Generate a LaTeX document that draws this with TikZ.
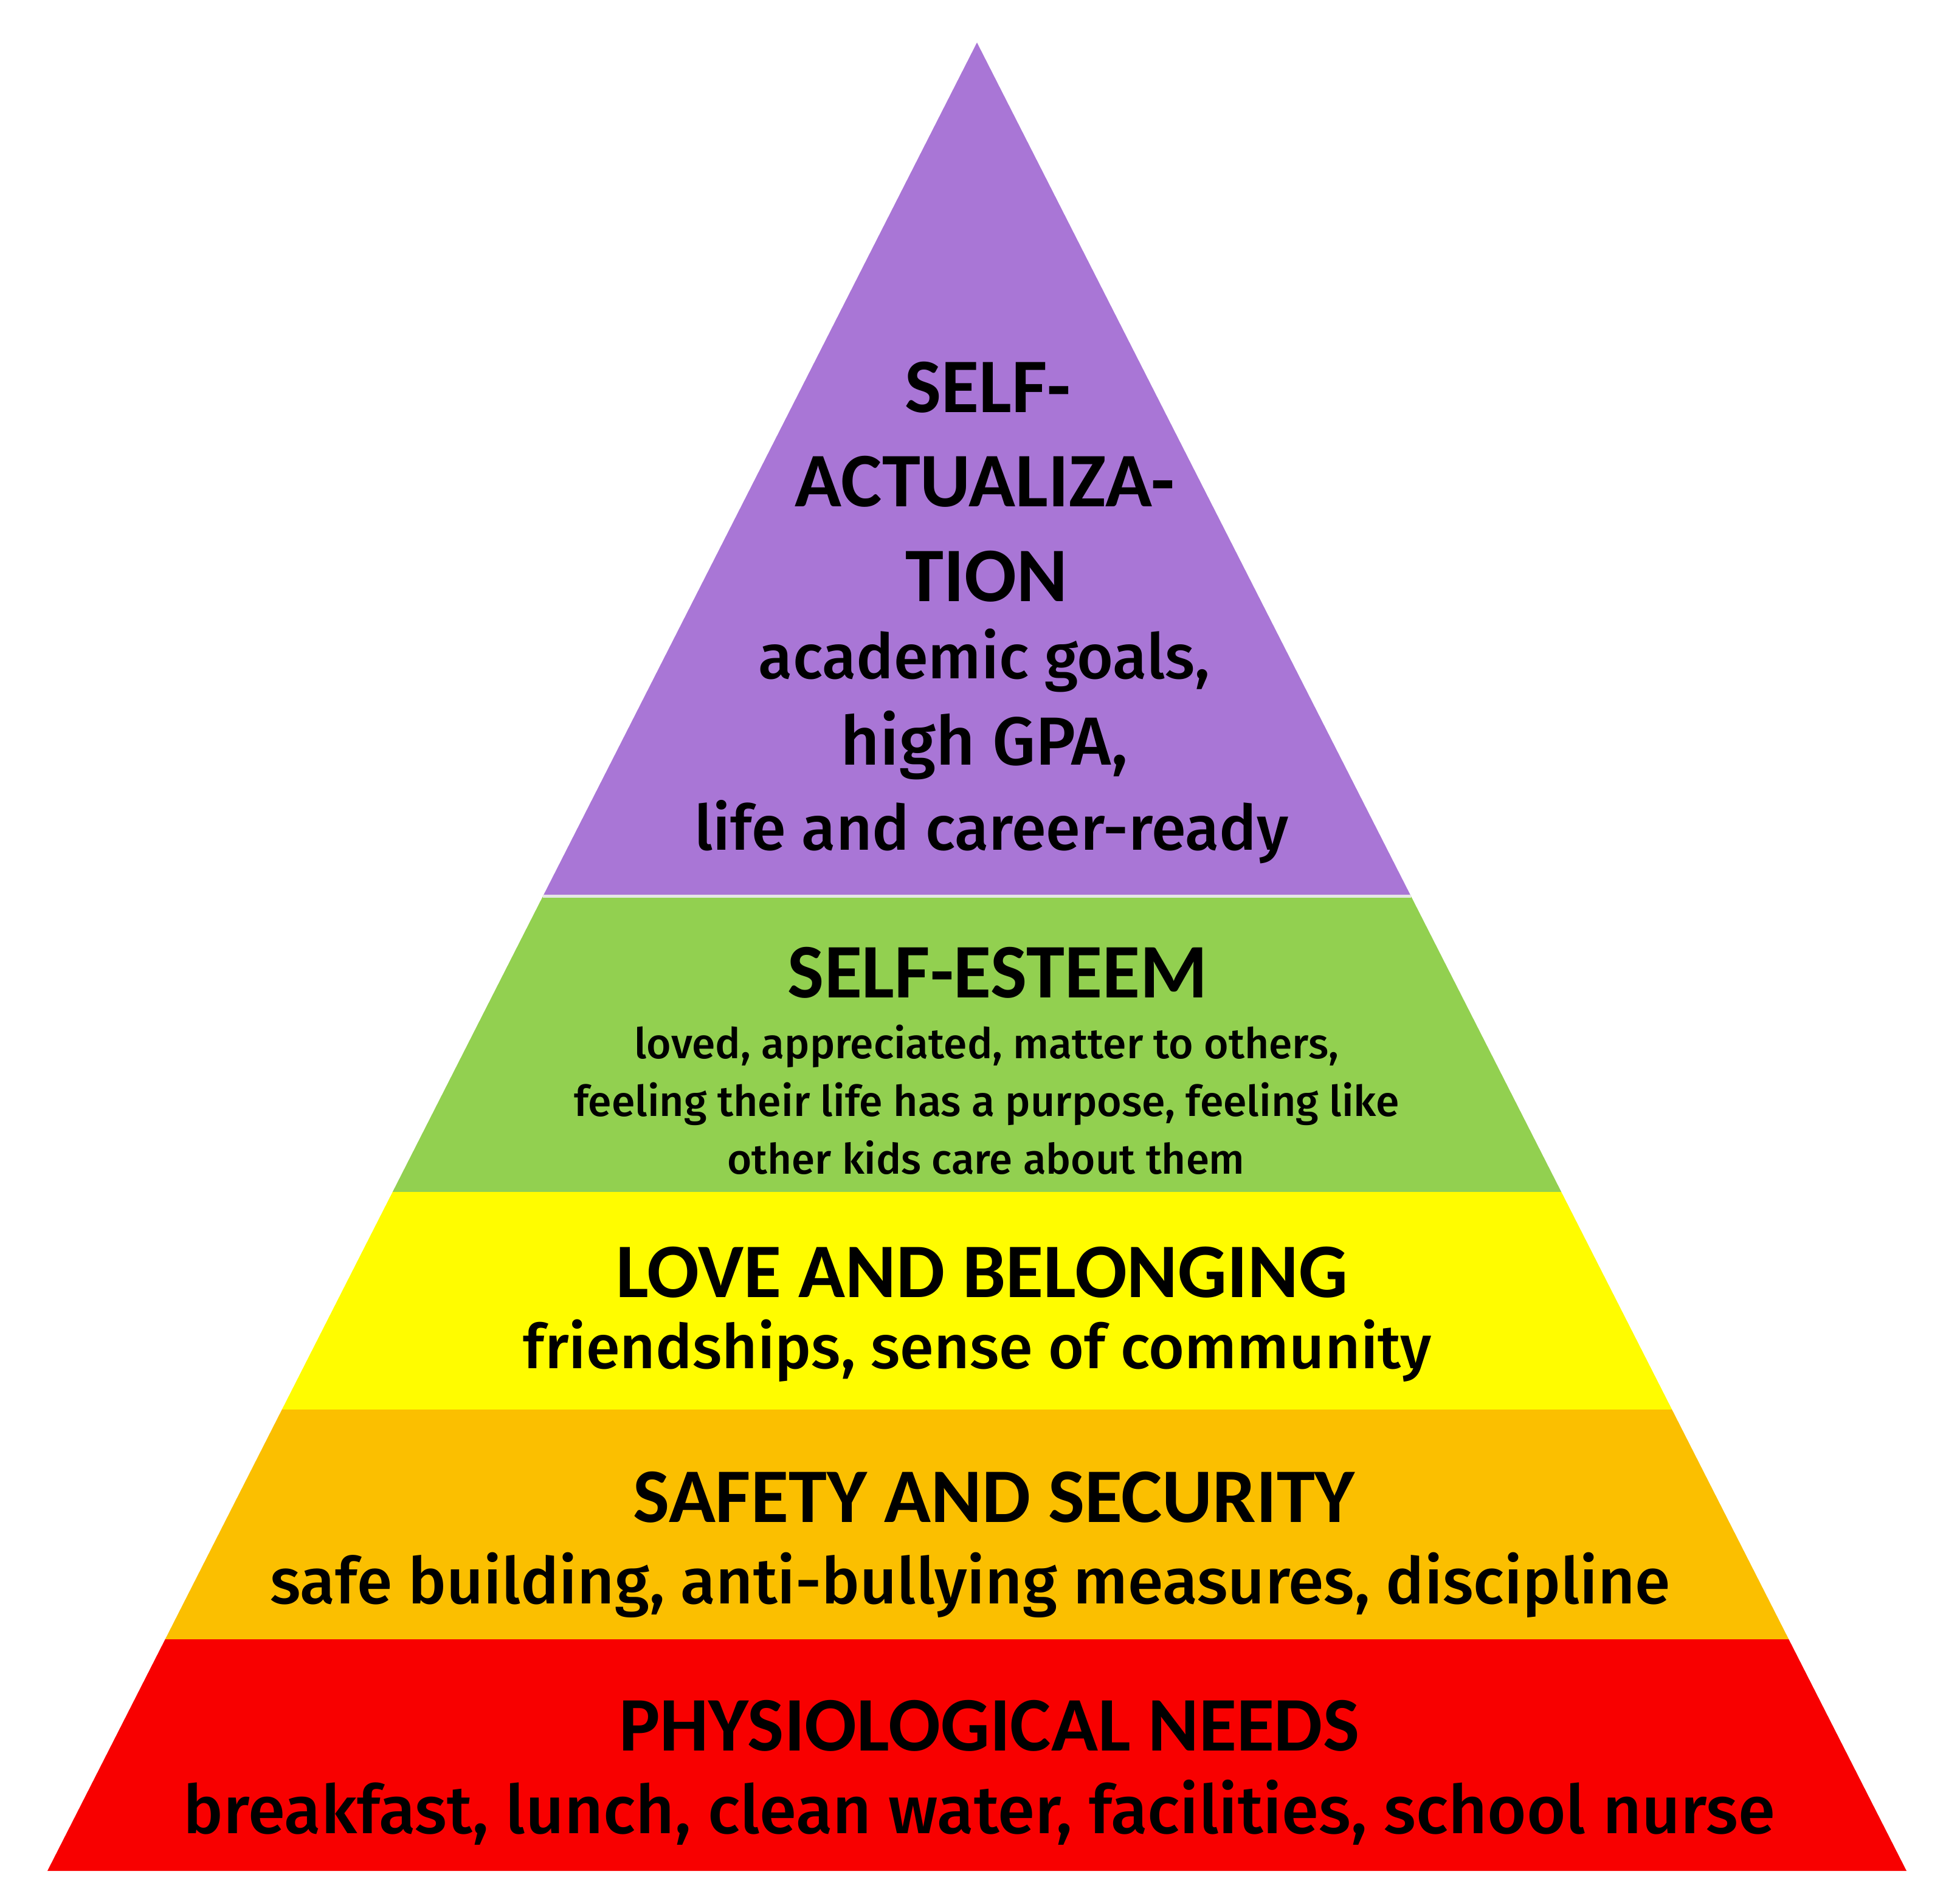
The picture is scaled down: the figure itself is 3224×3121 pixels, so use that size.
\documentclass[tikz,border=0pt]{standalone}
\usepackage{fontspec}
\usepackage{graphicx}
\setmainfont{Carlito}
\newfontfamily\bodyfont{Fira Sans Medium}
\definecolor{bandpurple}{HTML}{A976D6}
\definecolor{bandgreen}{HTML}{92D050}
\definecolor{bandyellow}{HTML}{FFFC00}
\definecolor{bandorange}{HTML}{FBBF00}
\definecolor{bandred}{HTML}{F80000}
\newcommand{\fitw}[2]{\resizebox{#1pt}{!}{#2}}
\tikzset{
  titletext/.style={anchor=base, inner sep=0pt, font=\fontsize{127}{150}\selectfont\bfseries, text=black},
  bodytext/.style={anchor=base, inner sep=0pt, font=\bodyfont, text=black},
  seam/.style={line width=5pt, white!80!gray}
}
\begin{document}
\begin{tikzpicture}[x=1pt,y=-1pt]
\useasboundingbox (0,0) rectangle (3224,3121);
\fill[white] (0,0) rectangle (3224,3121);
% corners
\coordinate (apex) at (1607,70);
\coordinate (l1) at (893.3,1474);  \coordinate (r1) at (2320.7,1474);
\coordinate (l2) at (645.8,1961);  \coordinate (r2) at (2568.2,1961);
\coordinate (l3) at (463.8,2319);  \coordinate (r3) at (2750.2,2319);
\coordinate (l4) at (271.7,2697);  \coordinate (r4) at (2942.3,2697);
\coordinate (l5) at (78,3078);     \coordinate (r5) at (3136,3078);
% bands
\fill[bandpurple] (apex) -- (l1) -- (r1) -- cycle;
\fill[bandgreen] (l1) -- (l2) -- (r2) -- (r1) -- cycle;
\fill[bandyellow] (l2) -- (l3) -- (r3) -- (r2) -- cycle;
\fill[bandorange] (l3) -- (l4) -- (r4) -- (r3) -- cycle;
\fill[bandred] (l4) -- (l5) -- (r5) -- (r4) -- cycle;
\draw[seam] (l1) -- (r1);
% self-actualization
\node[titletext] (sa1) at (1625,678) {SELF-};
\node[titletext] (sa2) at (1620,833) {ACTUALIZA-};
\node[titletext] (sa3) at (1623,989) {TION};
\node[bodytext] (sa4) at (1619,1116) {\fitw{742}{academic goals,}};
\node[bodytext] (sa5) at (1619,1258) {\fitw{473}{high GPA,}};
\node[bodytext] (sa6) at (1631,1398) {\fitw{977}{life and career-ready}};
% self-esteem
\node[titletext] (se1) at (1641,1641) {SELF-ESTEEM};
\node[bodytext] (se2) at (1623,1741) {\fitw{1158}{loved, appreciated, matter to others,}};
\node[bodytext] (se3) at (1623,1836) {\fitw{1357}{feeling their life has a purpose, feeling like}};
\node[bodytext] (se4) at (1622,1931) {\fitw{851}{other kids care about them}};
% love and belonging
\node[titletext] (lb1) at (1615,2134) {LOVE AND BELONGING};
\node[bodytext] (lb2) at (1608,2251) {\fitw{1493}{friendships, sense of community}};
% safety
\node[titletext] (ss1) at (1635,2504) {SAFETY AND SECURITY};
\node[bodytext] (ss2) at (1596,2638) {\fitw{2303}{safe building, anti-bullying measures, discipline}};
% physiological
\node[titletext] (pn1) at (1627,2880) {PHYSIOLOGICAL NEEDS};
\node[bodytext] (pn2) at (1611,3016) {\fitw{2617}{breakfast, lunch, clean water, facilities, school nurse}};
\end{tikzpicture}
\end{document}
